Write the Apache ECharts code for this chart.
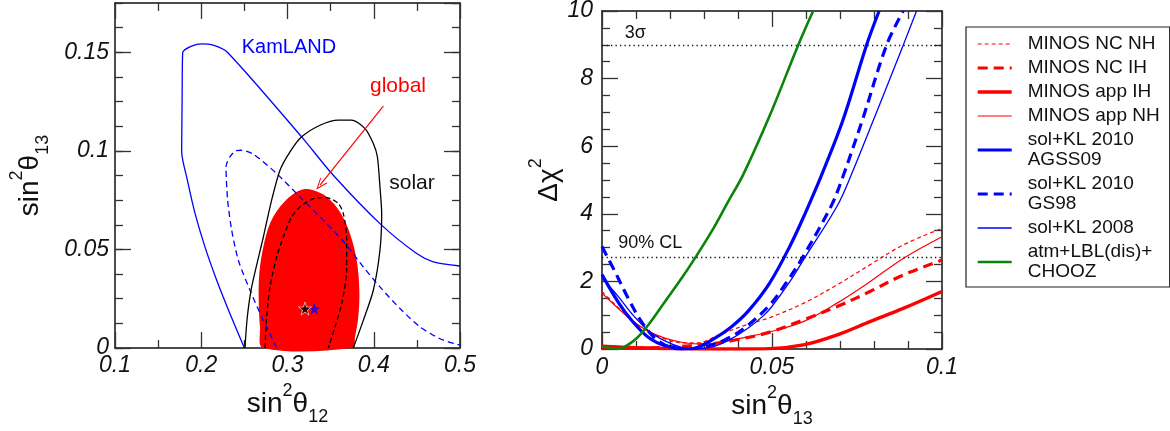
<!DOCTYPE html>
<html>
<head>
<meta charset="utf-8">
<script src="https://cdn.jsdelivr.net/npm/echarts@6/dist/echarts.min.js"></script>
<style>
html,body{margin:0;padding:0;background:#fff;}
#chart{width:1170px;height:431px;}
</style>
</head>
<body>
<div id="chart"></div>
<script>
// ---------------- Left panel data: sin^2(theta12) vs sin^2(theta13) ----------------
const kamlandSolid = [[0.2500,0],[0.2333,0.0174],[0.2179,0.0344],[0.2043,0.0513],[0.1928,0.0683],[0.1839,0.0852],[0.1773,0.0995],[0.1778,0.125],[0.1785,0.1499],[0.1889,0.1531],[0.2005,0.1543],[0.2140,0.1536],[0.2306,0.1499],[0.3164,0.1071],[0.3531,0.0876],[0.4072,0.0631],[0.4498,0.0479],[0.4691,0.0437],[0.5,0.0416]];
const kamlandDashed = [[0.2874,0],[0.2720,0.0140],[0.2565,0.0293],[0.2430,0.0445],[0.2353,0.0597],[0.2306,0.0750],[0.2287,0.0919],[0.2333,0.0970],[0.2399,0.1000],[0.2469,0.1003],[0.2604,0.0983],[0.2874,0.0885],[0.3145,0.0766],[0.3454,0.0631],[0.3686,0.0521],[0.3879,0.0411],[0.4072,0.0310],[0.4304,0.0200],[0.4536,0.0107],[0.4768,0.0047],[0.5,0.0014]];
const solarSolid = [[0.2507,0],[0.2534,0.0157],[0.2585,0.0310],[0.2720,0.0563],[0.2816,0.0750],[0.2913,0.0902],[0.3029,0.0995],[0.3164,0.1071],[0.3377,0.1130],[0.3589,0.1156],[0.3744,0.1156],[0.3899,0.1113],[0.3995,0.1037],[0.4042,0.0970],[0.4072,0.0817],[0.4092,0.0682],[0.4072,0.0496],[0.3995,0.0293],[0.3879,0.0140],[0.3763,0]];
const solarDashed = [[0.2739,0],[0.2758,0.0157],[0.2797,0.0310],[0.2874,0.0462],[0.2952,0.0563],[0.3048,0.0665],[0.3145,0.0716],[0.3300,0.0758],[0.3454,0.0763],[0.3589,0.0733],[0.3647,0.0682],[0.3686,0.0563],[0.3686,0.0394],[0.3628,0.0225],[0.3551,0.0107],[0.3473,0]];
const globalRegion = [[0.2720,0],[0.2681,0.0107],[0.2666,0.0242],[0.2673,0.0377],[0.2720,0.0513],[0.2797,0.0631],[0.2913,0.0716],[0.3048,0.0775],[0.3184,0.0805],[0.3300,0.0800],[0.3454,0.0767],[0.3609,0.0690],[0.3725,0.0580],[0.3802,0.0445],[0.3833,0.0293],[0.3821,0.0157],[0.3783,0.0056],[0.3752,0]];
const bestFitBlack = [[0.3203,0.0200]];
const bestFitBlue = [[0.3311,0.0200]];
const arrowFrom = [0.4111,0.1227];
const arrowTo = [0.3377,0.0826];

// ---------------- Right panel data: delta chi^2 vs sin^2(theta13) ----------------
const minosNCNH = [[0,1.7],[0.0048,1.22],[0.0087,0.85],[0.0136,0.52],[0.0185,0.3],[0.0234,0.18],[0.028,0.18],[0.0347,0.43],[0.0426,0.72],[0.0494,0.93],[0.0592,1.35],[0.069,1.89],[0.0788,2.49],[0.0886,3.08],[0.1,3.57]];
const minosNCIH = [[0,0.03],[0.01,0.02],[0.02,0.06],[0.031,0.14],[0.04,0.28],[0.0494,0.5],[0.0592,0.86],[0.069,1.25],[0.0788,1.70],[0.0886,2.19],[0.1,2.63]];
const minosAppIH = [[0,0.08],[0.01,0.04],[0.02,0.01],[0.03,0],[0.04,0],[0.0494,0.01],[0.0592,0.12],[0.069,0.41],[0.0788,0.81],[0.0886,1.20],[0.1,1.70]];
const minosAppNH = [[0,1.65],[0.0048,1.2],[0.0087,0.85],[0.0136,0.53],[0.0185,0.32],[0.0234,0.2],[0.028,0.15],[0.033,0.17],[0.04,0.3],[0.0494,0.51],[0.0592,0.81],[0.069,1.35],[0.0788,1.99],[0.0886,2.68],[0.1,3.32]];
const solKL2010AGSS09 = [[0,2.2],[0.0048,1.38],[0.0087,0.85],[0.0136,0.35],[0.0185,0.10],[0.025,0],[0.0283,0.05],[0.0332,0.32],[0.0381,0.66],[0.043,1.12],[0.0493,1.95],[0.0553,3.05],[0.0597,4.0],[0.0646,5.15],[0.0709,6.78],[0.0778,8.99],[0.0815,10]];
const solKL2010GS98 = [[0,3.03],[0.0038,2.29],[0.0077,1.50],[0.0116,0.81],[0.0156,0.32],[0.0195,0.07],[0.0235,0],[0.03,0.06],[0.0361,0.27],[0.042,0.63],[0.0493,1.30],[0.0543,1.98],[0.059,2.71],[0.0675,4.25],[0.0705,5.0],[0.0766,6.78],[0.0837,8.99],[0.0886,10]];
const solKL2008 = [[0,2.1],[0.0048,1.55],[0.0087,1.05],[0.0136,0.55],[0.0185,0.24],[0.0234,0.05],[0.0273,0],[0.033,0.08],[0.038,0.3],[0.043,0.62],[0.0474,0.98],[0.0499,1.25],[0.0553,2.0],[0.0597,2.71],[0.069,4.2],[0.0729,5.05],[0.0822,7.37],[0.0886,8.99],[0.0925,10]];
const atmLBLChooz = [[0,0.08],[0.0025,0.03],[0.0048,0],[0.0068,0.07],[0.0102,0.32],[0.0136,0.71],[0.0185,1.40],[0.0234,2.09],[0.0273,2.68],[0.0322,3.47],[0.0371,4.36],[0.0415,5.15],[0.0494,6.92],[0.0577,8.99],[0.0621,10]];
const refLevels = [{value: 9, label: '3σ', at: [0.0098, 9.35]}, {value: 2.71, label: '90% CL', at: [0.0142, 3.14]}];

const legendNames = ['MINOS NC NH','MINOS NC IH','MINOS app IH','MINOS app NH','sol+KL 2010\nAGSS09','sol+KL 2010\nGS98','sol+KL 2008','atm+LBL(dis)+\nCHOOZ'];

// ---------------- styling ----------------
const FONT = '"Liberation Sans", Arial, Helvetica, sans-serif';
const RED = '#ff0000', BLUE = '#0000ff', GREEN = '#0a840a', BLACK = '#000000';
const STAR = 'path://M50,0 L61,35 L98,35 L68,57 L79,91 L50,70 L21,91 L32,57 L2,35 L39,35 Z';
const CHEVRON = 'path://M0,10 L5,0 L10,10 L8.8,10 L5,2.4 L1.2,10 Z';

const titleRich = {
  m: {fontSize: 28, lineHeight: 44, verticalAlign: 'middle', fontFamily: FONT, color: '#111'},
  sup: {fontSize: 18, lineHeight: 18, verticalAlign: 'top', fontFamily: FONT, color: '#111'},
  sub: {fontSize: 18, lineHeight: 18, verticalAlign: 'bottom', fontFamily: FONT, color: '#111'}
};

function axis(o) {
  const a = {
    type: 'value',
    gridIndex: o.grid,
    position: o.pos,
    min: o.min, max: o.max, interval: o.interval,
    splitLine: {show: false},
    axisLine: {show: true, onZero: false, lineStyle: {color: '#111', width: 1.5}},
    axisTick: {show: true, inside: true, length: o.tickLen || 16, lineStyle: {color: '#333', width: 1.3}},
    minorTick: {show: !!o.minor, splitNumber: o.minor || 5, length: 8, lineStyle: {color: '#333', width: 1.3}},
    axisLabel: {show: !!o.labels, margin: o.margin || 6, fontFamily: FONT, fontStyle: 'italic', fontSize: 23, color: '#111', showMaxLabel: o.showMax !== false ? null : false},
    silent: true
  };
  if (o.name) {
    a.name = o.name;
    a.nameLocation = 'middle';
    a.nameGap = o.nameGap;
    a.nameRotate = o.nameRotate || 0;
    a.nameTextStyle = {rich: titleRich};
  }
  return a;
}

const xAxes = [
  axis({grid: 0, pos: 'bottom', min: 0.1, max: 0.5, interval: 0.1, minor: 2, labels: true, margin: 6,
        name: '{m|sin}{sup|2}{m|θ}{sub|12}', nameGap: 34}),
  axis({grid: 0, pos: 'top', min: 0.1, max: 0.5, interval: 0.1, minor: 2}),
  axis({grid: 1, pos: 'bottom', min: 0, max: 0.1, interval: 0.05, minor: 5, labels: true, margin: 7,
        name: '{m|sin}{sup|2}{m|θ}{sub|13}', nameGap: 33}),
  axis({grid: 1, pos: 'top', min: 0, max: 0.1, interval: 0.05, minor: 5})
];
const yAxes = [
  axis({grid: 0, pos: 'left', min: 0, max: 0.175, interval: 0.05, labels: true, margin: 6, showMax: false,
        name: '{m|sin}{sup|2}{m|θ}{sub|13}', nameGap: 63, nameRotate: 90}),
  axis({grid: 0, pos: 'right', min: 0, max: 0.175, interval: 0.05}),
  axis({grid: 0, pos: 'left', min: 0, max: 0.175, interval: 0.0125, tickLen: 8}),
  axis({grid: 0, pos: 'right', min: 0, max: 0.175, interval: 0.0125, tickLen: 8}),
  axis({grid: 1, pos: 'left', min: 0, max: 10, interval: 2, minor: 4, labels: true, margin: 9,
        name: '{m|Δχ}{sup|2}', nameGap: 30, nameRotate: 90}),
  axis({grid: 1, pos: 'right', min: 0, max: 10, interval: 2, minor: 4})
];
yAxes[2].axisLine.show = false; yAxes[3].axisLine.show = false;

function leftLine(name, data, color, dash, width) {
  return {
    type: 'line', name: name, xAxisIndex: 0, yAxisIndex: 0, data: data,
    symbol: 'none', smooth: 0.25, z: 3, silent: true, animation: false,
    lineStyle: {color: color, width: width || 1.3, type: dash || 'solid'}
  };
}
function rightLine(name, data, color, dash, width) {
  return {
    type: 'line', name: name, xAxisIndex: 2, yAxisIndex: 4, data: data,
    symbol: 'none', smooth: 0.35, z: 3, silent: true, animation: false,
    itemStyle: {color: color},
    lineStyle: {color: color, width: width, type: dash || 'solid'}
  };
}
function textMark(text, coord, color, size) {
  return {coord: coord, symbol: 'circle', symbolSize: 0,
          label: {show: true, position: 'inside', formatter: text, color: color, fontSize: size, fontFamily: FONT}};
}

const kam = leftLine('KamLAND', kamlandSolid, BLUE);
kam.markPoint = {silent: true, animation: false, data: [textMark('KamLAND', [0.3017, 0.1526], BLUE, 20)]};
const sol = leftLine('solar', solarSolid, BLACK);
sol.markPoint = {silent: true, animation: false, data: [
  textMark('global', [0.4281, 0.1328], RED, 21),
  textMark('solar', [0.4443, 0.0836], '#111', 21)
]};
sol.markLine = {silent: true, animation: false, symbol: ['none', CHEVRON], symbolSize: [9, 12],
  label: {show: false}, lineStyle: {color: RED, width: 1.2, type: 'solid'},
  data: [[{coord: arrowFrom}, {coord: arrowTo}]]};

const green = rightLine('atm+LBL(dis)+\nCHOOZ', atmLBLChooz, GREEN, 'solid', 2.6);
green.markLine = {silent: true, animation: false, symbol: ['none', 'none'], label: {show: false},
  lineStyle: {color: '#111', width: 1.3, type: [1.3, 3.2]},
  data: refLevels.map(r => ({yAxis: r.value}))};
green.markPoint = {silent: true, animation: false,
  data: refLevels.map(r => textMark(r.label, r.at, '#111', 18))};

const option = {
  backgroundColor: '#ffffff',
  animation: false,
  grid: [
    {left: 115, top: 3, width: 345, height: 345, containLabel: false, outerBoundsMode: 'none'},
    {left: 602, top: 11, width: 340, height: 338, containLabel: false, outerBoundsMode: 'none'}
  ],
  xAxis: xAxes,
  yAxis: yAxes,
  legend: {
    orient: 'vertical', left: 966, top: 27,
    itemWidth: 34, itemHeight: 12, itemGap: 4,
    padding: [7, 10, 5, 10],
    borderColor: '#222', borderWidth: 1.2, backgroundColor: '#fff',
    textStyle: {fontFamily: FONT, fontSize: 19, lineHeight: 20, color: '#111', padding: [0, 0, 0, 11]},
    lineStyle: {width: 'inherit'},
    itemStyle: {opacity: 0, borderWidth: 0},
    selectedMode: false,
    data: legendNames
  },
  series: [
    {
      type: 'custom', name: 'global', xAxisIndex: 0, yAxisIndex: 0, z: 1, silent: true,
      data: [globalRegion[0]],
      renderItem: function (params, api) {
        return {type: 'polygon', shape: {points: globalRegion.map(p => api.coord(p)), smooth: 0.35},
                style: {fill: RED, stroke: null}};
      }
    },
    kam,
    leftLine('KamLAND dashed', kamlandDashed, BLUE, [6, 4]),
    sol,
    leftLine('solar dashed', solarDashed, BLACK, [5, 3]),
    {type: 'scatter', name: 'best fit', xAxisIndex: 0, yAxisIndex: 0, data: bestFitBlack, z: 5,
     symbol: STAR, symbolSize: 13, itemStyle: {color: BLACK, borderColor: '#fff', borderWidth: 0.8}, silent: true},
    {type: 'scatter', name: 'best fit 2', xAxisIndex: 0, yAxisIndex: 0, data: bestFitBlue, z: 4,
     symbol: STAR, symbolSize: 12, itemStyle: {color: BLUE}, silent: true},

    rightLine('MINOS NC NH', minosNCNH, RED, [4, 3], 1.2),
    rightLine('MINOS NC IH', minosNCIH, RED, [10, 6], 3.2),
    rightLine('MINOS app IH', minosAppIH, RED, 'solid', 3.4),
    rightLine('MINOS app NH', minosAppNH, RED, 'solid', 1.2),
    rightLine('sol+KL 2010\nAGSS09', solKL2010AGSS09, BLUE, 'solid', 3.2),
    rightLine('sol+KL 2010\nGS98', solKL2010GS98, BLUE, [10, 6], 3.2),
    rightLine('sol+KL 2008', solKL2008, BLUE, 'solid', 1.3),
    green
  ]
};

const chart = echarts.init(document.getElementById('chart'), null, {renderer: 'canvas'});
chart.setOption(option);
</script>
</body>
</html>
